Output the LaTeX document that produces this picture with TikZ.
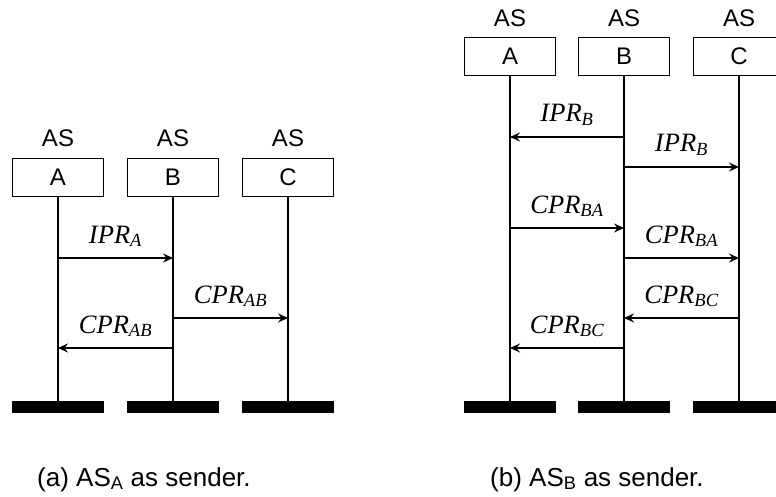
\documentclass[tikz,border=0pt]{standalone}
\usepackage{fontspec}
\setmainfont{Liberation Serif}
\setsansfont{Liberation Sans}
\usepackage{tikz}
\usetikzlibrary{arrows.meta,positioning}
\newcommand{\sfbig}{\sffamily\fontsize{24}{28}\selectfont}
\newcommand{\pr}[2]{$\mathit{#1}_{\mathit{#2}}$}
\tikzset{
  asbox/.style={rectangle, draw=black, line width=0.9pt, minimum width=91pt, minimum height=38pt,
                inner sep=0pt, font=\sfbig},
  astag/.style={inner sep=0pt, font=\sfbig},
  foot/.style={rectangle, fill=black, minimum width=92pt, minimum height=12pt, inner sep=0pt},
  life/.style={line width=2.6pt},
  msg/.style={-{Stealth[length=10pt, width=9pt, inset=3.5pt]}, line width=1.2pt},
  lbl/.style={font=\fontsize{26.5}{30}\selectfont, anchor=base, inner sep=0pt, yshift=15pt},
  caplbl/.style={font=\sffamily\fontsize{26}{30}\selectfont, anchor=base west, inner sep=0pt},
}

\begin{document}
\begin{tikzpicture}[x=1pt, y=-1pt]
\useasboundingbox (0,0) rectangle (776,497);

% (a) AS_A as sender
\foreach \n/\x in {A/58, B/173, C/288}{
  \node[asbox] (la\n) at (\x,177) {\n};
  \node[astag, above=11pt of la\n] (lt\n) {AS};
  \node[foot] (lf\n) at (\x,407) {};
  \draw[life] (la\n) -- (lf\n);
}
\coordinate (la1) at (0,258);
\coordinate (la2) at (0,318);
\coordinate (la3) at (0,348);
\draw[msg] (laA |- la1) -- (laB |- la1) node[midway, lbl] {\pr{IPR}{A}};
\draw[msg] (laB |- la2) -- (laC |- la2) node[midway, lbl] {\pr{CPR}{AB}};
\draw[msg] (laB |- la3) -- (laA |- la3) node[midway, lbl] {\pr{CPR}{AB}};

% (b) AS_B as sender
\foreach \n/\x in {A/510, B/624, C/739}{
  \node[asbox] (rb\n) at (\x,56.5) {\n};
  \node[astag, above=10pt of rb\n] (rt\n) {AS};
  \node[foot] (rf\n) at (\x,407) {};
  \draw[life] (rb\n) -- (rf\n);
}
\coordinate (rb1) at (0,137);
\coordinate (rb2) at (0,167);
\coordinate (rb3) at (0,228);
\coordinate (rb4) at (0,258);
\coordinate (rb5) at (0,318);
\coordinate (rb6) at (0,348);
\draw[msg] (rbB |- rb1) -- (rbA |- rb1) node[midway, lbl] {\pr{IPR}{B}};
\draw[msg] (rbB |- rb2) -- (rbC |- rb2) node[midway, lbl] {\pr{IPR}{B}};
\draw[msg] (rbA |- rb3) -- (rbB |- rb3) node[midway, lbl] {\pr{CPR}{BA}};
\draw[msg] (rbB |- rb4) -- (rbC |- rb4) node[midway, lbl] {\pr{CPR}{BA}};
\draw[msg] (rbC |- rb5) -- (rbB |- rb5) node[midway, lbl] {\pr{CPR}{BC}};
\draw[msg] (rbB |- rb6) -- (rbA |- rb6) node[midway, lbl] {\pr{CPR}{BC}};

\node[caplbl] (capa) at (37,486) {(a) AS\textsubscript{A} as sender.};
\node[caplbl] (capb) at (490,486) {(b) AS\textsubscript{B} as sender.};
\end{tikzpicture}
\end{document}
